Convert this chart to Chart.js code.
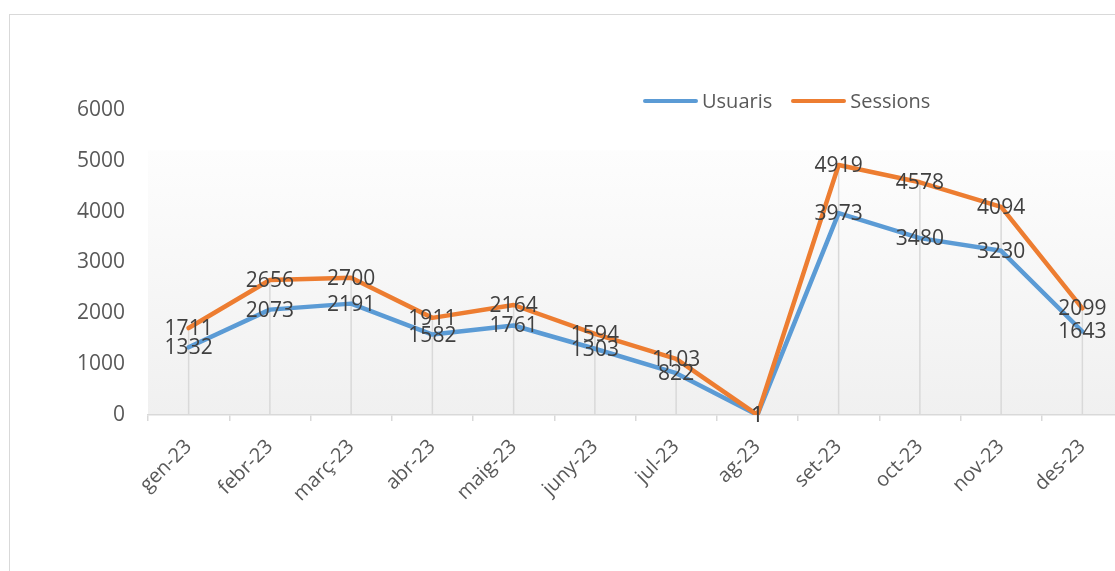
<!DOCTYPE html>
<html>
<head>
<meta charset="utf-8">
<script src="https://cdn.jsdelivr.net/npm/chart.js@4.4.1/dist/chart.umd.min.js"></script>
<style>
  html, body { margin: 0; padding: 0; width: 1115px; height: 571px; overflow: hidden; background: #fff; }
  #frame { position: absolute; left: 9px; top: 14px; width: 1200px; height: 620px; border: 1.5px solid #d9d9d9; box-sizing: border-box; }
  #wrap { position: absolute; left: 0; top: 0; width: 1135px; height: 571px; }
  #legend { position: absolute; left: 643px; top: 87px; display: flex; align-items: center; font-family: 'Open Sans', sans-serif; font-size: 20px; color: #595959; }
  .item { display: flex; align-items: center; margin-right: 19px; }
  .swatch { width: 55px; height: 4px; border-radius: 2px; margin-right: 4px; }
</style>
</head>
<body>
<div id="frame"></div>
<div id="wrap"><canvas id="salesChart" width="1135" height="571"></canvas></div>
<div id="legend"></div>
<script>
// Monthly traffic 2023
const months = ["gen-23", "febr-23", "març-23", "abr-23", "maig-23", "juny-23",
                "jul-23", "ag-23", "set-23", "oct-23", "nov-23", "des-23"];
const usuaris = [1332, 2073, 2191, 1582, 1761, 1303, 822, 1, 3973, 3480, 3230, 1643];
const sessions = [1711, 2656, 2700, 1911, 2164, 1594, 1103, 1, 4919, 4578, 4094, 2099];
const yMax = 6000;
const yStep = 1000;

const BLUE = "#5B9BD5";
const ORANGE = "#ED7D31";
const FONT = "'Open Sans', sans-serif";

// plot area gradient like Excel
const plotBackground = {
  id: "plotBackground",
  beforeDraw(chart) {
    const { ctx, chartArea: a } = chart;
    const g = ctx.createLinearGradient(0, a.top, 0, a.bottom);
    g.addColorStop(0, "#ffffff");
    g.addColorStop(0.13, "#ffffff");
    g.addColorStop(0.135, "#fdfdfd");
    g.addColorStop(1, "#f0f0f0");
    ctx.save();
    ctx.fillStyle = g;
    ctx.fillRect(a.left, a.top, a.right - a.left, a.bottom - a.top);
    ctx.restore();
  }
};

// drop lines from highest point to the axis
const dropLines = {
  id: "dropLines",
  beforeDatasetsDraw(chart) {
    const { ctx, chartArea: a } = chart;
    const metas = chart.data.datasets.map((d, i) => chart.getDatasetMeta(i));
    ctx.save();
    ctx.strokeStyle = "#d9d9d9";
    ctx.lineWidth = 1.5;
    months.forEach((m, i) => {
      const top = Math.min(...metas.map(meta => meta.data[i].y));
      const x = metas[0].data[i].x;
      ctx.beginPath();
      ctx.moveTo(x, top);
      ctx.lineTo(x, a.bottom);
      ctx.stroke();
    });
    ctx.restore();
  }
};

// value labels centred on each point
const valueLabels = {
  id: "valueLabels",
  afterDatasetsDraw(chart) {
    const { ctx } = chart;
    ctx.save();
    ctx.font = "21px " + FONT;
    ctx.fillStyle = "#404040";
    ctx.textAlign = "center";
    ctx.textBaseline = "middle";
    chart.data.datasets.forEach((ds, i) => {
      chart.getDatasetMeta(i).data.forEach((pt, j) => {
        ctx.fillText(String(ds.data[j]), pt.x, pt.y + 1);
      });
    });
    ctx.restore();
  }
};

new Chart(document.getElementById("salesChart").getContext("2d"), {
  type: "line",
  data: {
    labels: months,
    datasets: [{
      label: "Usuaris",
      data: usuaris,
      borderColor: BLUE,
      backgroundColor: BLUE,
      borderWidth: 4.5,
      tension: 0,
      pointRadius: 0,
      borderCapStyle: "round",
      borderJoinStyle: "round",
      order: 1
    }, {
      label: "Sessions",
      data: sessions,
      borderColor: ORANGE,
      backgroundColor: ORANGE,
      borderWidth: 4.5,
      tension: 0,
      pointRadius: 0,
      borderCapStyle: "round",
      borderJoinStyle: "round",
      order: 0
    }]
  },
  options: {
    responsive: false,
    animation: false,
    layout: { padding: { left: 0, top: 110, right: 12, bottom: 56 } },
    plugins: {
      legend: { display: false },
      tooltip: { enabled: false }
    },
    scales: {
      x: {
        offset: true,
        grid: { offset: true, drawOnChartArea: false, drawTicks: true, tickLength: 6, color: "#d9d9d9", lineWidth: 1.5 },
        border: { display: true, color: "#d9d9d9", width: 1.5 },
        ticks: {
          color: "#595959",
          font: { family: FONT, size: 20 },
          minRotation: 45,
          maxRotation: 45,
          padding: 14,
          autoSkip: false
        },
        afterFit: scale => { scale.height = 100; }
      },
      y: {
        min: 0,
        max: yMax,
        grid: { display: false, drawTicks: false },
        border: { display: false },
        ticks: {
          stepSize: yStep,
          color: "#595959",
          font: { family: FONT, size: 21 },
          padding: 23,
          callback: value => String(value)
        },
        afterFit: scale => { scale.width = 148; }
      }
    }
  },
  plugins: [plotBackground, dropLines, valueLabels]
});

// legend built from the same series
const legend = document.getElementById("legend");
[["Usuaris", BLUE], ["Sessions", ORANGE]].forEach(([name, color]) => {
  const item = document.createElement("div");
  item.className = "item";
  item.innerHTML = `<span class="swatch" style="background:${color}"></span><span>${name}</span>`;
  legend.appendChild(item);
});
</script>
</body>
</html>
